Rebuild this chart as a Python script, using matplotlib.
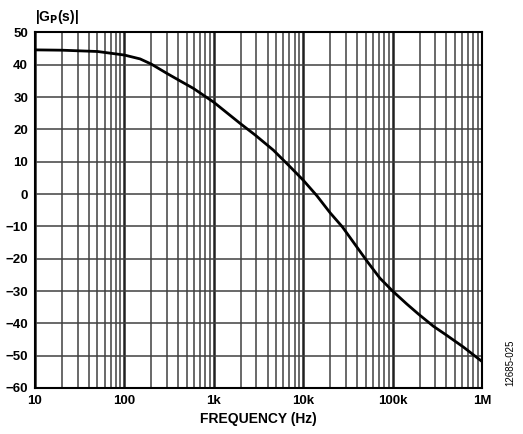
" open-loop gain magnitude plot "
import matplotlib
matplotlib.use("Agg")
import matplotlib.pyplot as plt
import matplotlib.ticker as mticker
import numpy as np

freq = [10, 20, 50, 100, 150, 200, 300, 420, 590, 1000, 1960, 2890, 4630,
        7100, 10000, 14200, 20000, 27500, 38000, 52500, 72000, 100000,
        144000, 194000, 286000, 403000, 617000, 1000000]
gain = [44.6, 44.5, 44.1, 43.0, 41.8, 40.2, 37.3, 35.0, 32.7, 28.4, 21.9,
        18.3, 13.6, 8.5, 4.3, -0.5, -5.8, -10.2, -15.6, -21.0, -26.0, -30.0,
        -34.0, -37.1, -40.9, -43.7, -47.3, -51.8]
xticks = [10, 100, 1000, 10000, 100000, 1000000]
xlabels = ["10", "100", "1k", "10k", "100k", "1M"]
yticks = list(range(-60, 51, 10))

plt.rcParams["font.family"] = ["Liberation Sans", "DejaVu Sans"]
fig = plt.figure(figsize=(5.23, 4.34), dpi=100)
ax = fig.add_axes([0.0669, 0.106, 0.8547, 0.8193])

ax.semilogx(freq, gain, color="black", lw=2.0, zorder=3,
            solid_joinstyle="round")

ax.set_xlim(10, 1e6)
ax.set_ylim(-60, 50)
ax.set_xticks(xticks)
ax.set_xticklabels(xlabels)
ax.xaxis.set_minor_locator(mticker.LogLocator(base=10, subs=np.arange(2, 10)))
ax.xaxis.set_minor_formatter(mticker.NullFormatter())
ax.set_yticks(yticks)

ax.grid(which="major", axis="x", color="#202020", lw=1.8)
ax.grid(which="minor", axis="x", color="#404040", lw=1.1)
ax.grid(which="major", axis="y", color="#404040", lw=1.1)
ax.tick_params(which="both", length=0, labelsize=9.5, pad=5)
for lab in ax.get_xticklabels() + ax.get_yticklabels():
    lab.set_fontweight("bold")
for sp in ax.spines.values():
    sp.set_linewidth(1.5)

ax.set_xlabel("FREQUENCY (Hz)", fontsize=10, fontweight="bold", labelpad=4)
fig.text(35 / 523, 1 - 17 / 434, "|G$_\\mathbf{P}$(s)|", fontsize=10,
         fontweight="bold", ha="left", va="center")
fig.text(510 / 523, 1 - 363 / 434, "12685-025", fontsize=7, rotation=90,
         ha="center", va="center")

fig.savefig("out.png", dpi=100)
